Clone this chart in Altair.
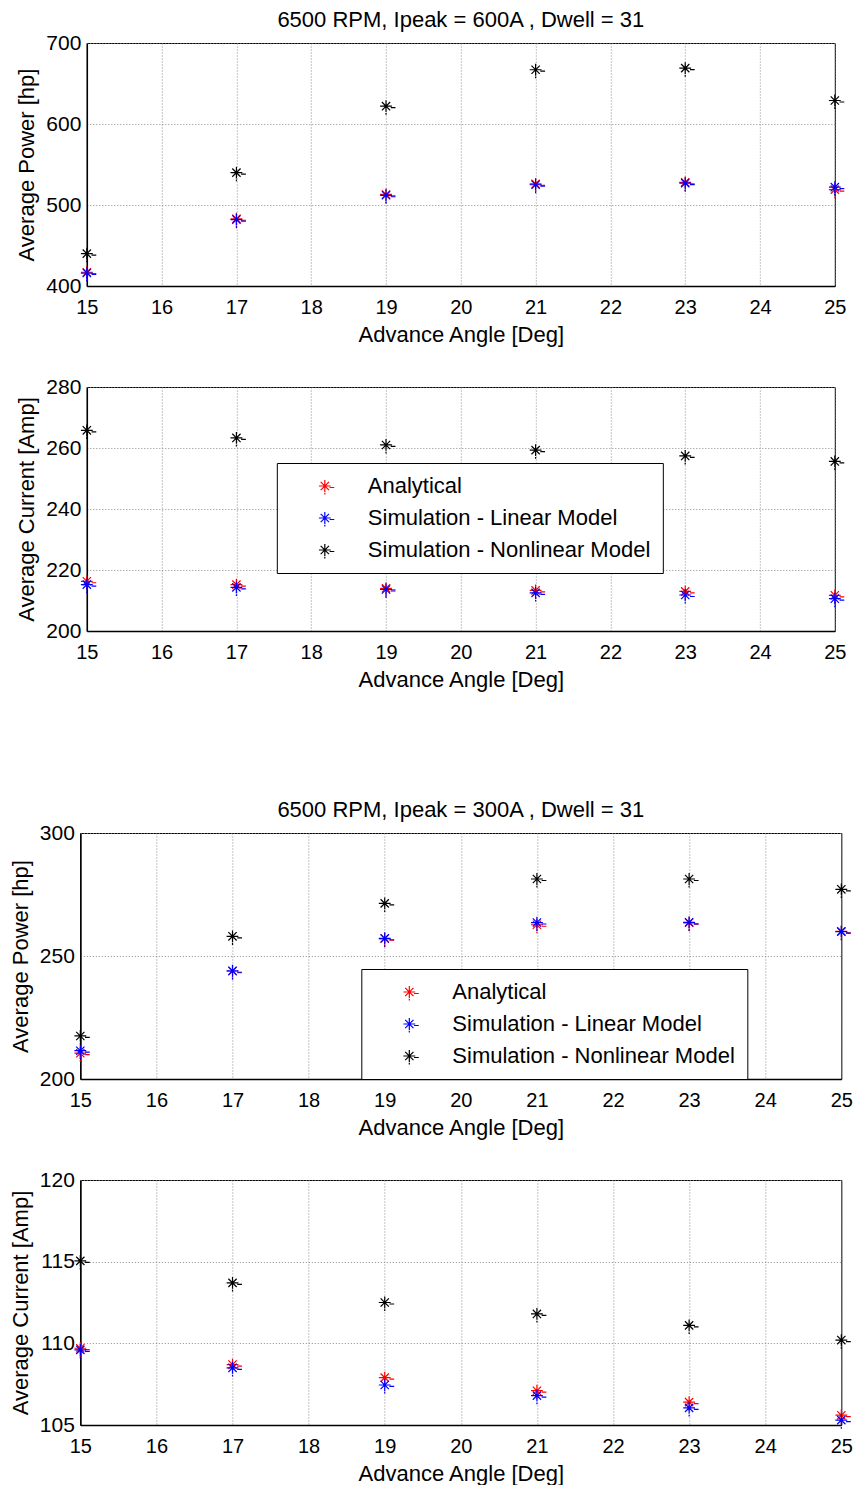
import altair as alt
import pandas as pd

angles = [15, 17, 19, 21, 23, 25]
series_names = ["Analytical", "Simulation - Linear Model", "Simulation - Nonlinear Model"]
series_colors = ["#ff0000", "#0000ff", "#000000"]

# 6500 RPM, Ipeak = 600A
p600_analytical = [417, 483, 513, 526, 528, 519]
p600_linear = [416, 482, 512, 525, 527, 522]
p600_nonlinear = [440, 540, 622, 667, 669, 629]
i600_analytical = [216.3, 215.2, 214.0, 213.3, 213.0, 211.7]
i600_linear = [215.2, 214.3, 213.6, 212.5, 211.8, 210.6]
i600_nonlinear = [265.8, 263.3, 261.0, 259.3, 257.4, 255.6]

# 6500 RPM, Ipeak = 300A
p300_analytical = [210.5, 243.8, 257.0, 262.7, 263.5, 260.0]
p300_linear = [211.5, 244.0, 257.2, 263.6, 263.7, 259.9]
p300_nonlinear = [217.5, 258.0, 271.4, 281.3, 281.3, 277.1]
i300_analytical = [109.7, 108.7, 107.9, 107.1, 106.4, 105.6]
i300_linear = [109.6, 108.5, 107.45, 106.8, 106.05, 105.3]
i300_nonlinear = [115.05, 113.7, 112.5, 111.8, 111.1, 110.2]

x_ticks = list(range(15, 26))
FONT = "Liberation Sans"
STAR = "M-1,0L1,0M0,-1L0,1M-0.7,-0.7L0.7,0.7M-0.7,0.7L0.7,-0.7M0.8,0.25L1.6,0.25M0,1.15L0,1.45"


def make_df(a, l, n):
    rows = []
    for name, vals in zip(series_names, [a, l, n]):
        for ang, v in zip(angles, vals):
            rows.append({"angle": ang, "value": v, "series": name})
    return pd.DataFrame(rows)


def make_legend(lx, ly):
    return alt.Legend(
        title=None, orient="none", legendX=lx, legendY=ly,
        symbolType=STAR, symbolSize=140, symbolStrokeWidth=1.2,
        labelFont=FONT, labelFontSize=22, labelColor="black",
        strokeColor="black", fillColor="white", padding=12,
        symbolOffset=25, labelOffset=32, rowPadding=10, labelLimit=400,
    )


def panel(df, ytitle, ydomain, yticks, width, height, legend=None, title=None):
    ch = alt.Chart(df).mark_point(
        shape=STAR, filled=False, size=140, strokeWidth=1.2, opacity=1
    ).encode(
        x=alt.X("angle:Q", scale=alt.Scale(domain=[15, 25], nice=False, zero=False),
                axis=alt.Axis(values=x_ticks, title="Advance Angle [Deg]", labelFlush=False,
                              labelOverlap=False, format="d")),
        y=alt.Y("value:Q", scale=alt.Scale(domain=ydomain, nice=False, zero=False),
                axis=alt.Axis(values=yticks, title=ytitle, labelOverlap=False, format="d")),
        color=alt.Color("series:N", scale=alt.Scale(domain=series_names, range=series_colors),
                        legend=legend),
    ).properties(width=width, height=height)
    if title is not None:
        ch = ch.properties(title=alt.TitleParams(
            title, font=FONT, fontSize=22, fontWeight="normal", color="black",
            anchor="middle", frame="group", offset=0))
    return ch


p1 = panel(make_df(p600_analytical, p600_linear, p600_nonlinear), "Average Power [hp]",
           [400, 700], [400, 500, 600, 700], 748, 243, None,
           "6500 RPM, Ipeak = 600A , Dwell = 31")
p2 = panel(make_df(i600_analytical, i600_linear, i600_nonlinear), "Average Current [Amp]",
           [200, 280], [200, 220, 240, 260, 280], 748, 244, make_legend(190, 76))
p3 = panel(make_df(p300_analytical, p300_linear, p300_nonlinear), "Average Power [hp]",
           [200, 300], [200, 250, 300], 761, 246, make_legend(281, 136),
           "6500 RPM, Ipeak = 300A , Dwell = 31")
p4 = panel(make_df(i300_analytical, i300_linear, i300_nonlinear), "Average Current [Amp]",
           [105, 120], [105, 110, 115, 120], 761, 245, None)

top = alt.vconcat(p1, p2, spacing=29).resolve_legend(color="independent")
bottom = alt.vconcat(p3, p4, spacing=29).resolve_legend(color="independent")

chart = alt.vconcat(top, bottom, spacing=107, center=True).resolve_legend(
    color="independent"
).properties(
    padding={"left": 0, "top": 0, "right": 0, "bottom": 0}
).configure(
    background="white"
).configure_view(
    stroke="black", strokeWidth=1
).configure_axis(
    labelFont=FONT, labelFontSize=21, labelColor="black",
    titleFont=FONT, titleFontSize=22, titleFontWeight="normal", titleColor="black",
    ticks=False, tickSize=0, domainColor="black", domainWidth=1.5,
    grid=True, gridColor="#808080", gridDash=[1, 2], gridWidth=1, gridOpacity=0.9,
).configure_axisX(
    labelPadding=11, titlePadding=7, labelFontSize=20
).configure_axisY(
    labelPadding=6, titlePadding=7
)

chart.save("out.html", embed_options={"renderer": "svg", "actions": False})
